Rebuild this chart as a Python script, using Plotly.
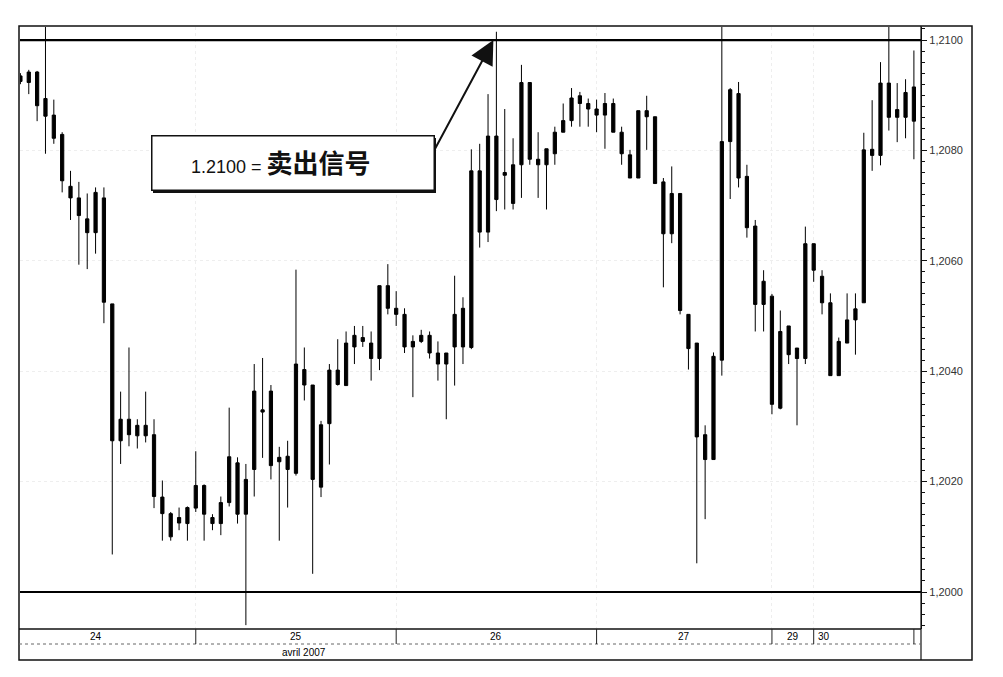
import plotly.graph_objects as go

# ---------------- data (EUR/USD, hourly, 24-30 April 2007) ----------------
hours = list(range(108))

opens = [
    1.20935, 1.20942, 1.20942, 1.20894, 1.20864, 1.20829, 1.20735, 1.20714, 1.20651, 1.20724,
    1.20714, 1.20522, 1.20274, 1.20313, 1.20283, 1.20302, 1.20285, 1.20172, 1.20100, 1.20125,
    1.20124, 1.20193, 1.20193, 1.20124, 1.20124, 1.20245, 1.20141, 1.20141, 1.20222, 1.20330,
    1.20364, 1.20244, 1.20222, 1.20215, 1.20403, 1.20375, 1.20190, 1.20305, 1.20376, 1.20374,
    1.20465, 1.20461, 1.20423, 1.20423, 1.20555, 1.20514, 1.20503, 1.20444, 1.20465, 1.20465,
    1.20433, 1.20413, 1.20444, 1.20444, 1.20443, 1.20652, 1.20652, 1.20826, 1.20760, 1.20704,
    1.20774, 1.20923, 1.20774, 1.20774, 1.20794, 1.20833, 1.20854, 1.20899, 1.20885, 1.20864,
    1.20885, 1.20885, 1.20833, 1.20750, 1.20750, 1.20872, 1.20861, 1.20743, 1.20722, 1.20722,
    1.20503, 1.20451, 1.20240, 1.20240, 1.20420, 1.20816, 1.20903, 1.20753, 1.20663, 1.20563,
    1.20536, 1.20333, 1.20482, 1.20423, 1.20423, 1.20631, 1.20572, 1.20524, 1.20392, 1.20451,
    1.20493, 1.20524, 1.20791, 1.20791, 1.20922, 1.20860, 1.20905, 1.20853,
]
highs = [
    1.20940, 1.20946, 1.20944, 1.21030, 1.20892, 1.20833, 1.20763, 1.20743, 1.20722, 1.20733,
    1.20733, 1.20522, 1.20363, 1.20443, 1.20313, 1.20363, 1.20313, 1.20202, 1.20145, 1.20153,
    1.20155, 1.20255, 1.20195, 1.20141, 1.20173, 1.20334, 1.20244, 1.20232, 1.20413, 1.20424,
    1.20375, 1.20263, 1.20274, 1.20584, 1.20443, 1.20375, 1.20310, 1.20413, 1.20458, 1.20472,
    1.20482, 1.20482, 1.20472, 1.20555, 1.20594, 1.20545, 1.20514, 1.20465, 1.20475, 1.20472,
    1.20454, 1.20433, 1.20573, 1.20534, 1.20802, 1.20812, 1.20902, 1.21015, 1.20875, 1.20822,
    1.20955, 1.20923, 1.20833, 1.20803, 1.20843, 1.20885, 1.20913, 1.20906, 1.20894, 1.20892,
    1.20904, 1.20894, 1.20843, 1.20801, 1.20872, 1.20899, 1.20861, 1.20750, 1.20771, 1.20722,
    1.20503, 1.20451, 1.20302, 1.20434, 1.21040, 1.20913, 1.20924, 1.20774, 1.20674, 1.20583,
    1.20540, 1.20510, 1.20482, 1.20442, 1.20662, 1.20631, 1.20583, 1.20541, 1.20461, 1.20541,
    1.20541, 1.20832, 1.20891, 1.20960, 1.21030, 1.20922, 1.20929, 1.20981,
]
lows = [
    1.20920, 1.20902, 1.20853, 1.20794, 1.20812, 1.20724, 1.20674, 1.20593, 1.20585, 1.20613,
    1.20487, 1.20068, 1.20232, 1.20264, 1.20260, 1.20271, 1.20152, 1.20093, 1.20093, 1.20112,
    1.20093, 1.20145, 1.20093, 1.20112, 1.20103, 1.20155, 1.20124, 1.19940, 1.20173, 1.20243,
    1.20204, 1.20093, 1.20153, 1.20211, 1.20347, 1.20033, 1.20172, 1.20231, 1.20374, 1.20374,
    1.20413, 1.20444, 1.20383, 1.20402, 1.20503, 1.20482, 1.20433, 1.20353, 1.20451, 1.20423,
    1.20383, 1.20313, 1.20374, 1.20413, 1.20440, 1.20624, 1.20634, 1.20690, 1.20693, 1.20693,
    1.20714, 1.20774, 1.20714, 1.20693, 1.20774, 1.20833, 1.20843, 1.20843, 1.20843, 1.20833,
    1.20803, 1.20833, 1.20774, 1.20750, 1.20750, 1.20801, 1.20740, 1.20552, 1.20632, 1.20503,
    1.20403, 1.20052, 1.20132, 1.20240, 1.20392, 1.20712, 1.20733, 1.20642, 1.20472, 1.20472,
    1.20322, 1.20331, 1.20413, 1.20302, 1.20413, 1.20562, 1.20503, 1.20392, 1.20392, 1.20451,
    1.20430, 1.20524, 1.20763, 1.20773, 1.20836, 1.20815, 1.20822, 1.20784,
]
closes = [
    1.20925, 1.20923, 1.20881, 1.20862, 1.20822, 1.20745, 1.20714, 1.20682, 1.20676, 1.20651,
    1.20525, 1.20274, 1.20313, 1.20285, 1.20302, 1.20283, 1.20173, 1.20142, 1.20142, 1.20135,
    1.20153, 1.20152, 1.20141, 1.20135, 1.20162, 1.20162, 1.20234, 1.20204, 1.20364, 1.20326,
    1.20229, 1.20236, 1.20246, 1.20413, 1.20375, 1.20204, 1.20303, 1.20402, 1.20402, 1.20451,
    1.20444, 1.20454, 1.20451, 1.20555, 1.20514, 1.20503, 1.20444, 1.20454, 1.20454, 1.20433,
    1.20413, 1.20433, 1.20503, 1.20514, 1.20763, 1.20763, 1.20826, 1.20711, 1.20755, 1.20774,
    1.20923, 1.20784, 1.20784, 1.20803, 1.20833, 1.20854, 1.20895, 1.20885, 1.20875, 1.20875,
    1.20864, 1.20833, 1.20794, 1.20792, 1.20872, 1.20861, 1.20740, 1.20649, 1.20649, 1.20510,
    1.20441, 1.20281, 1.20285, 1.20427, 1.20816, 1.20910, 1.20750, 1.20660, 1.20521, 1.20521,
    1.20340, 1.20472, 1.20430, 1.20442, 1.20631, 1.20583, 1.20524, 1.20392, 1.20454, 1.20493,
    1.20513, 1.20801, 1.20802, 1.20922, 1.20860, 1.20874, 1.20860, 1.20915,
]

day_labels = ["24", "25", "26", "27", "29", "30"]
day_start = [0, 21, 45, 69, 90, 95]          # index of first hourly bar of each day
day_first_hour = [3, 0, 0, 0, 19, 0]          # clock hour of that first bar
month_label = "avril 2007"
month_label_hour = 34

y_ticks = [1.2000, 1.2020, 1.2040, 1.2060, 1.2080, 1.2100]
levels = [1.2100, 1.2000]

signal_num = "1.2100 ="
signal_cn = "卖出信号"
signal_bar = 57
signal_level = 1.2100

# ---------------- layout helpers ----------------
W, H = 1003, 677
ML, MR, MT, MB = 20, 82, 27, 48
PW, PH = W - ML - MR, H - MT - MB


def px_x(px):
    return (px - ML) / PW


def px_y(py):
    return (H - MB - py) / PH


FONT = "Liberation Sans, Arial, sans-serif"

fig = go.Figure()
fig.add_trace(go.Candlestick(
    x=hours, open=opens, high=highs, low=lows, close=closes,
    increasing=dict(line=dict(color="black", width=1), fillcolor="black"),
    decreasing=dict(line=dict(color="black", width=1), fillcolor="black"),
    whiskerwidth=0, showlegend=False, hoverinfo="skip",
))

shapes = []
# key levels
for lv in levels:
    shapes.append(dict(type="line", xref="paper", yref="y", x0=0, x1=1, y0=lv, y1=lv,
                       line=dict(color="black", width=2.2), layer="above"))

frame_top, frame_bot, frame_left, frame_right = 26, 660, 19, 972
# outer frame
shapes.append(dict(type="rect", xref="paper", yref="paper",
                   x0=px_x(frame_left), x1=px_x(frame_right),
                   y0=px_y(frame_bot), y1=px_y(frame_top),
                   line=dict(color="#111", width=1.5)))
# axis line extended over the date rows
shapes.append(dict(type="line", xref="paper", yref="paper", x0=1, x1=1,
                   y0=px_y(frame_bot), y1=px_y(frame_top), line=dict(color="#111", width=1.2)))
# plot bottom line
shapes.append(dict(type="line", xref="paper", yref="paper", x0=px_x(frame_left), x1=1,
                   y0=0, y1=0, line=dict(color="#111", width=1.5)))
# date row bottom line
row_bot = 644
shapes.append(dict(type="line", xref="paper", yref="paper", x0=px_x(frame_left), x1=1,
                   y0=px_y(row_bot), y1=px_y(row_bot), line=dict(color="#666", width=1, dash="dot")))
# day separators in date row
for s in day_start[1:] + [hours[-1]]:
    shapes.append(dict(type="line", xref="x", yref="paper", x0=s, x1=s,
                       y0=px_y(row_bot), y1=0, line=dict(color="#222", width=1)))

annotations = []
# day labels
for i, lab in enumerate(day_labels):
    s = day_start[i]
    if i == len(day_labels) - 1:
        annotations.append(dict(x=s, y=px_y(636.5), xref="x", yref="paper", text=lab,
                                showarrow=False, xanchor="left", xshift=2, yanchor="middle",
                                font=dict(family=FONT, size=10, color="black")))
        continue
    e = day_start[i + 1]
    cs = s - day_first_hour[i] if i == 0 else s
    c = (cs + e) / 2
    annotations.append(dict(x=c, y=px_y(636.5), xref="x", yref="paper", text=lab,
                            showarrow=False, xanchor="center", yanchor="middle",
                            font=dict(family=FONT, size=10, color="black")))
annotations.append(dict(x=month_label_hour, y=px_y(652), xref="x", yref="paper", text=month_label,
                        showarrow=False, xanchor="center", yanchor="middle",
                        font=dict(family=FONT, size=10, color="black")))

# signal box (shadow + box + text)
box_l, box_r, box_t, box_b = 151, 434, 136, 191
bx, by = px_x((box_l + box_r) / 2), px_y((box_t + box_b) / 2)
annotations.append(dict(x=bx, y=by, xref="paper", yref="paper", text=" ", showarrow=False,
                        xanchor="center", yanchor="middle",
                        width=box_r - box_l, height=box_b - box_t, bgcolor="#111",
                        borderwidth=0, borderpad=0, xshift=2, yshift=-2))
annotations.append(dict(x=bx, y=by, xref="paper", yref="paper", text=" ", showarrow=False,
                        xanchor="center", yanchor="middle",
                        width=box_r - box_l - 2, height=box_b - box_t - 2, bgcolor="white",
                        bordercolor="#111", borderwidth=1.5, borderpad=0))
annotations.append(dict(
    x=px_x(281), y=px_y(161.5), xref="paper", yref="paper", showarrow=False,
    text=(signal_num + ' <span style="font-family:Noto Sans CJK SC;font-size:26px">'
          + "<b>" + signal_cn + "</b></span>"),
    font=dict(family=FONT, size=18, color="#111"), xanchor="center", yanchor="middle"))
# arrow pointing at the 1.2100 touch
annotations.append(dict(x=signal_bar, y=signal_level, xref="x", yref="y", text="",
                        showarrow=True, arrowhead=2, arrowsize=2.4, arrowwidth=2,
                        arrowcolor="#111", ax=-59, ay=110, standoff=0, xshift=-3))

fig.update_layout(
    width=W, height=H,
    margin=dict(l=ML, r=MR, t=MT, b=MB),
    paper_bgcolor="white", plot_bgcolor="white",
    separators=", ",
    showlegend=False,
    boxgap=0.45,
    shapes=shapes,
    annotations=annotations,
    xaxis=dict(range=[-0.05, 107.85], rangeslider=dict(visible=False),
               showticklabels=False, ticks="", tickvals=day_start[1:],
               showgrid=True, gridcolor="#eeeeee", griddash="dot", gridwidth=1,
               zeroline=False, showline=False),
    yaxis=dict(range=[1.19933, 1.210236], side="right", tickvals=y_ticks, tickformat=".4f",
               ticks="outside", ticklen=5, tickwidth=1, tickcolor="#111",
               minor=dict(dtick=0.0002, ticks="outside", ticklen=2.5, tickcolor="#111", tickwidth=1),
               showline=True, linecolor="#111", linewidth=1.2,
               showgrid=True, gridcolor="#eeeeee", griddash="dot", gridwidth=1,
               zeroline=False,
               tickfont=dict(family=FONT, size=11, color="#333")),
)

fig.write_html("out.html", config={"displayModeBar": False},
               post_script="document.body.style.margin='0';")
